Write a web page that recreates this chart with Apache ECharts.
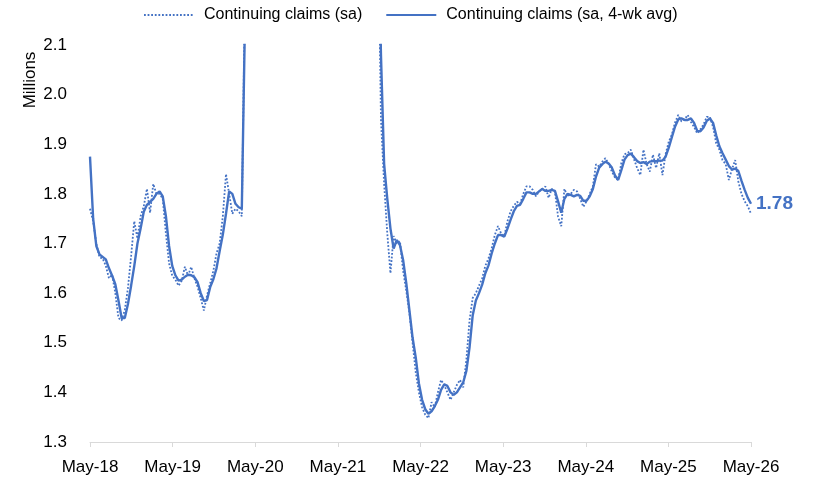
<!DOCTYPE html>
<html>
<head>
<meta charset="utf-8">
<script src="https://cdn.jsdelivr.net/npm/echarts@6/dist/echarts.min.js"></script>
<style>
html,body{margin:0;padding:0;background:#fff;}
#c{width:813px;height:481px;}
</style>
</head>
<body>
<div id="c"></div>
<script>
// x-axis tick labels (one per year, May-18 .. May-26)
const tickLabels = ['May-18','May-19','May-20','May-21','May-22','May-23','May-24','May-25','May-26'];

// Continuing claims (sa), millions, sampled every ~2 weeks
const saPre = [1.77,1.745,1.70,1.672,1.67,1.655,1.63,1.637,1.60,1.55,1.545,1.566,1.61,1.675,1.745,1.71,1.755,1.775,1.81,1.762,
  1.82,1.80,1.80,1.79,1.72,1.66,1.635,1.627,1.615,1.625,1.653,1.635,1.653,1.63,1.613,1.59,1.565,1.595,1.62,1.645,
  1.68,1.70,1.755,1.84,1.80,1.76,1.77,1.765,1.755,2.2];
const saGap = [7.4,18.0,22.5,21.0,18.5,17.0,16.2,14.5,13.0,12.5,11.4,10.0,8.5,7.2,6.4,5.8,5.4,5.1,5.3,5.0,
  4.9,4.7,4.4,4.2,4.0,3.8,3.7,3.6,3.6,3.5,3.4,3.5,3.4,3.3,3.0,2.9,2.8,2.7,2.6,2.5,2.45];
const saPost = [2.4,1.95,1.82,1.72,1.64,1.715,1.70,1.705,1.645,1.605,1.56,1.50,1.44,1.40,1.37,1.355,1.348,1.38,1.37,1.40,
  1.425,1.415,1.40,1.385,1.40,1.415,1.425,1.41,1.465,1.545,1.59,1.60,1.615,1.63,1.655,1.67,1.69,1.717,1.735,1.72,
  1.715,1.745,1.765,1.776,1.784,1.78,1.80,1.815,1.815,1.808,1.795,1.805,1.81,1.815,1.792,1.81,1.805,1.754,1.735,1.81,
  1.795,1.80,1.808,1.805,1.79,1.774,1.785,1.80,1.815,1.86,1.855,1.865,1.872,1.86,1.845,1.833,1.828,1.862,1.88,1.882,
  1.889,1.87,1.852,1.838,1.889,1.86,1.845,1.879,1.852,1.882,1.838,1.88,1.905,1.92,1.944,1.959,1.946,1.95,1.959,1.945,
  1.935,1.922,1.93,1.94,1.955,1.955,1.935,1.902,1.889,1.868,1.86,1.828,1.85,1.868,1.825,1.80,1.785,1.775,1.76];

// Continuing claims (sa, 4-wk avg), millions
const avgPre = [1.875,1.75,1.695,1.678,1.673,1.668,1.65,1.635,1.618,1.585,1.55,1.55,1.578,1.615,1.655,1.70,1.73,1.764,1.778,1.784,
  1.79,1.80,1.805,1.795,1.755,1.695,1.655,1.636,1.625,1.627,1.633,1.637,1.636,1.632,1.622,1.60,1.584,1.586,1.612,1.628,
  1.65,1.685,1.718,1.76,1.805,1.80,1.78,1.773,1.77,2.15];
const avgGap = [3.5,11.0,18.0,21.5,21.0,19.5,17.8,16.5,15.0,13.8,12.6,11.2,9.8,8.4,7.3,6.5,5.9,5.4,5.2,5.2,
  5.0,4.8,4.6,4.4,4.2,4.0,3.8,3.7,3.6,3.6,3.5,3.45,3.45,3.35,3.2,3.0,2.9,2.8,2.7,2.6,2.5];
const avgPost = [2.4,2.08,1.86,1.79,1.73,1.69,1.707,1.697,1.667,1.62,1.565,1.51,1.47,1.418,1.385,1.366,1.357,1.362,1.372,1.385,
  1.405,1.416,1.413,1.40,1.395,1.40,1.41,1.42,1.443,1.49,1.555,1.585,1.60,1.617,1.64,1.656,1.68,1.70,1.717,1.717,
  1.714,1.73,1.748,1.765,1.776,1.778,1.79,1.803,1.803,1.80,1.80,1.805,1.81,1.806,1.806,1.808,1.806,1.785,1.762,1.79,
  1.80,1.798,1.795,1.798,1.796,1.786,1.786,1.795,1.81,1.835,1.853,1.86,1.865,1.861,1.853,1.837,1.828,1.848,1.869,1.878,
  1.881,1.874,1.866,1.862,1.864,1.86,1.865,1.866,1.866,1.867,1.867,1.875,1.893,1.915,1.936,1.95,1.952,1.949,1.949,1.952,
  1.943,1.927,1.926,1.934,1.947,1.952,1.943,1.918,1.896,1.882,1.869,1.856,1.849,1.851,1.846,1.826,1.808,1.792,1.78];

const sa = saPre.concat(saGap, saPost);
const avg = avgPre.concat(avgGap, avgPost);
const n = avg.length;
const step = (tickLabels.length - 1) / (n - 1);
const toPairs = arr => arr.map((v, i) => [i * step, v]);

const FONT = "'Liberation Sans Narrow','Arial Narrow','Liberation Sans',Arial,sans-serif";
const BLUE = '#4472C4';

const chart = echarts.init(document.getElementById('c'));
chart.setOption({
  animation: false,
  backgroundColor: '#fff',
  grid: { left: 90, right: 62, top: 45, bottom: 39 },
  legend: {
    left: 143, top: 7, padding: 0,
    itemWidth: 50, itemHeight: 14, itemGap: 23,
    itemStyle: { opacity: 0 },
    textStyle: { fontFamily: FONT, fontSize: 16, color: '#000', padding: [0, 0, 0, 5] },
    data: ['Continuing claims (sa)', 'Continuing claims (sa, 4-wk avg)']
  },
  xAxis: {
    type: 'value', min: 0, max: 8, interval: 1,
    axisLine: { show: true, lineStyle: { color: '#D9D9D9', width: 1 } },
    axisTick: { show: true, length: 5, lineStyle: { color: '#D9D9D9' } },
    splitLine: { show: false },
    axisLabel: {
      formatter: v => tickLabels[Math.round(v)] || '',
      fontFamily: FONT, fontSize: 17, color: '#000', margin: 17
    }
  },
  yAxis: {
    type: 'value', min: 1.3, max: 2.1, interval: 0.1,
    axisLine: { show: false }, axisTick: { show: false }, splitLine: { show: false },
    axisLabel: {
      formatter: v => v.toFixed(1),
      fontFamily: FONT, fontSize: 17, color: '#000', margin: 23
    }
  },
  graphic: [{
    type: 'text', x: 30, y: 80, rotation: Math.PI / 2,
    style: { text: 'Millions', fontFamily: FONT, fontSize: 17, fill: '#000', align: 'center', verticalAlign: 'middle' }
  }],
  series: [
    {
      name: 'Continuing claims (sa)', type: 'line', data: toPairs(sa),
      symbol: 'none', z: 2,
      itemStyle: { color: BLUE },
      lineStyle: { color: BLUE, width: 1.8, type: [1.8, 1.8] }
    },
    {
      name: 'Continuing claims (sa, 4-wk avg)', type: 'line', data: toPairs(avg),
      symbol: 'none', z: 3,
      itemStyle: { color: BLUE },
      lineStyle: { color: BLUE, width: 2.4 },
      endLabel: {
        show: true, formatter: p => p.value[1].toFixed(2),
        color: BLUE, fontWeight: 'bold', fontSize: 19, fontFamily: FONT, distance: 5
      }
    }
  ]
});
</script>
</body>
</html>
